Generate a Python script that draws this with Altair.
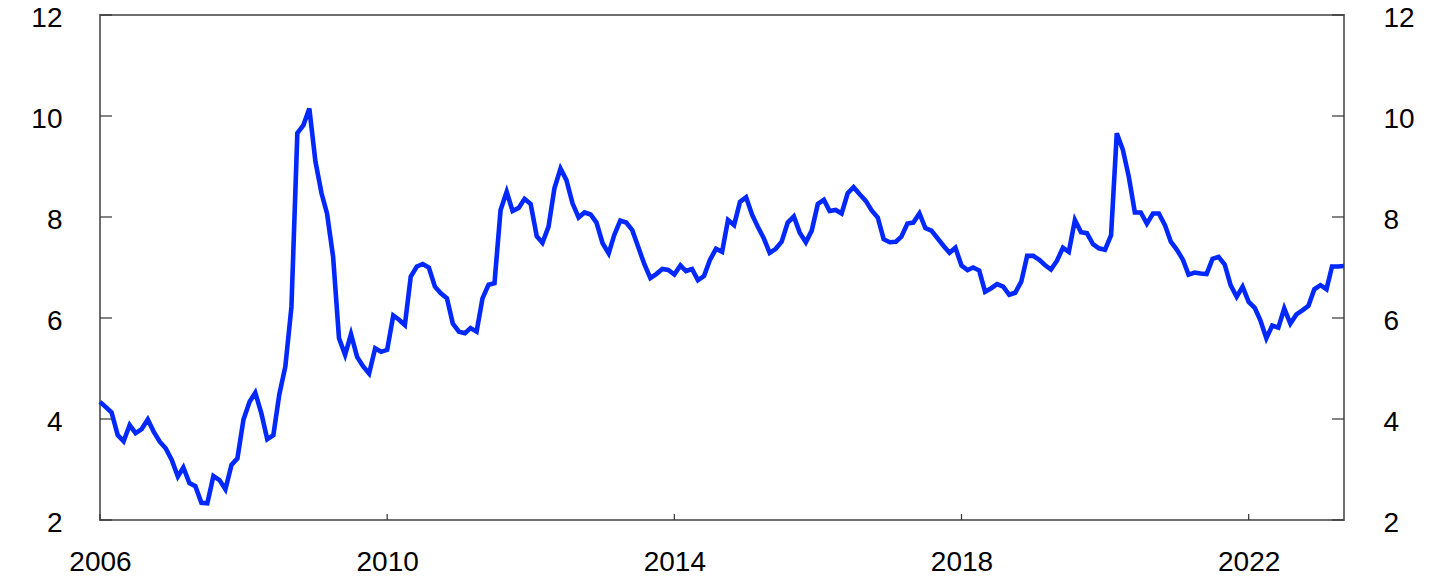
import altair as alt
import pandas as pd

# Monthly values, Jan 2006 - May 2023
v2006 = [4.34, 4.23, 4.13, 3.68, 3.56, 3.88, 3.72, 3.80, 3.99, 3.75, 3.55, 3.42]
v2007 = [3.19, 2.86, 3.04, 2.73, 2.67, 2.34, 2.33, 2.87, 2.79, 2.61, 3.09, 3.22]
v2008 = [3.99, 4.34, 4.52, 4.11, 3.60, 3.68, 4.48, 5.04, 6.22, 9.66, 9.82, 10.15]
v2009 = [9.10, 8.47, 8.07, 7.21, 5.60, 5.27, 5.68, 5.23, 5.04, 4.90, 5.40, 5.33]
v2010 = [5.37, 6.05, 5.97, 5.86, 6.82, 7.02, 7.07, 7.00, 6.62, 6.49, 6.39, 5.89]
v2011 = [5.73, 5.70, 5.80, 5.73, 6.39, 6.66, 6.69, 8.14, 8.50, 8.12, 8.18, 8.36]
v2012 = [8.26, 7.62, 7.49, 7.81, 8.57, 8.96, 8.73, 8.27, 7.99, 8.09, 8.05, 7.89]
v2013 = [7.48, 7.28, 7.64, 7.93, 7.89, 7.74, 7.41, 7.07, 6.79, 6.87, 6.97, 6.95]
v2014 = [6.86, 7.04, 6.93, 6.97, 6.75, 6.83, 7.15, 7.37, 7.31, 7.94, 7.84, 8.30]
v2015 = [8.39, 8.04, 7.81, 7.58, 7.29, 7.37, 7.51, 7.89, 8.01, 7.69, 7.50, 7.73]
v2016 = [8.26, 8.34, 8.12, 8.14, 8.07, 8.47, 8.59, 8.45, 8.32, 8.13, 7.99, 7.56]
v2017 = [7.50, 7.51, 7.61, 7.87, 7.89, 8.07, 7.78, 7.73, 7.58, 7.43, 7.29, 7.39]
v2018 = [7.04, 6.95, 7.00, 6.94, 6.52, 6.59, 6.67, 6.62, 6.46, 6.50, 6.72, 7.23]
v2019 = [7.23, 7.15, 7.05, 6.96, 7.13, 7.39, 7.31, 7.94, 7.70, 7.68, 7.46, 7.38]
v2020 = [7.35, 7.64, 9.66, 9.33, 8.80, 8.09, 8.09, 7.87, 8.07, 8.07, 7.84, 7.51]
v2021 = [7.35, 7.15, 6.86, 6.90, 6.88, 6.87, 7.17, 7.21, 7.06, 6.65, 6.42, 6.62]
v2022 = [6.32, 6.20, 5.96, 5.60, 5.85, 5.81, 6.19, 5.89, 6.07, 6.15, 6.24, 6.57]
v2023 = [6.65, 6.57, 7.02, 7.02, 7.03]

values = (v2006 + v2007 + v2008 + v2009 + v2010 + v2011 + v2012 + v2013 + v2014
          + v2015 + v2016 + v2017 + v2018 + v2019 + v2020 + v2021 + v2022 + v2023)

x_tick_years = [2006, 2010, 2014, 2018, 2022]
y_ticks = [2, 4, 6, 8, 10, 12]

dates = pd.date_range("2006-01-01", periods=len(values), freq="MS").strftime("%Y-%m-%d").tolist()
df = pd.DataFrame({"date": dates, "value": values})
xt = pd.DataFrame({"date": [f"{y}-01-01" for y in x_tick_years]})
yt = pd.DataFrame({"value": y_ticks})

W, H = 1244, 505
FONT = "Liberation Sans"
FS = 28

xscale = alt.Scale(
    type="utc",
    domain=[alt.DateTime(year=2006, month=1, date=1, utc=True),
            alt.DateTime(year=2023, month=5, date=1, utc=True)],
    nice=False,
)
yscale = alt.Scale(domain=[2, 12], nice=False, zero=False)

x_axis = alt.Axis(
    values=[alt.DateTime(year=y, month=1, date=1, utc=True) for y in x_tick_years],
    format="%Y", formatType="utc", title=None, grid=False,
    ticks=False, tickSize=0, domain=False, labelFont=FONT, labelFontSize=FS,
    labelColor="#000000", labelPadding=28, labelAlign="center", orient="bottom",
)
y_axis_left = alt.Axis(
    values=y_ticks, title=None, grid=False, ticks=False, tickSize=0, domain=False,
    labelFont=FONT, labelFontSize=FS, labelColor="#000000", labelPadding=38,
    labelOffset=3,
)
y_axis_right = alt.Axis(
    orient="right", values=y_ticks, title=None, grid=False, ticks=False, tickSize=0,
    domain=False, labelFont=FONT, labelFontSize=FS, labelColor="#000000",
    labelPadding=39, labelOffset=3,
)

line = alt.Chart(df).mark_line(color="#0028ff", strokeWidth=4.6).encode(
    x=alt.X("date:T", scale=xscale, axis=x_axis),
    y=alt.Y("value:Q", scale=yscale, axis=y_axis_left),
)

left_ticks = alt.Chart(yt).mark_rule(color="#333333", strokeWidth=1.2).encode(
    y=alt.Y("value:Q", scale=yscale, axis=y_axis_right),
    x=alt.value(0), x2=alt.value(12),
)

right_ticks = alt.Chart(yt).mark_rule(color="#333333", strokeWidth=1.2).encode(
    y=alt.Y("value:Q", scale=yscale, axis=None),
    x=alt.value(W - 12), x2=alt.value(W),
)

bottom_ticks = alt.Chart(xt).mark_rule(color="#333333", strokeWidth=1.2).encode(
    x=alt.X("date:T", scale=xscale, axis=x_axis),
    y=alt.value(H - 6), y2=alt.value(H),
)

chart = alt.layer(line, left_ticks, right_ticks, bottom_ticks).resolve_axis(
    y="independent"
).properties(
    width=W, height=H,
    padding={"left": 92, "top": 7, "right": 93, "bottom": 51},
    autosize=alt.AutoSizeParams(type="none"),
    background="#ffffff",
).configure_view(
    stroke="#6e6e6e", strokeWidth=2
)

chart.save("out.html", embed_options={"renderer": "svg", "actions": False})
